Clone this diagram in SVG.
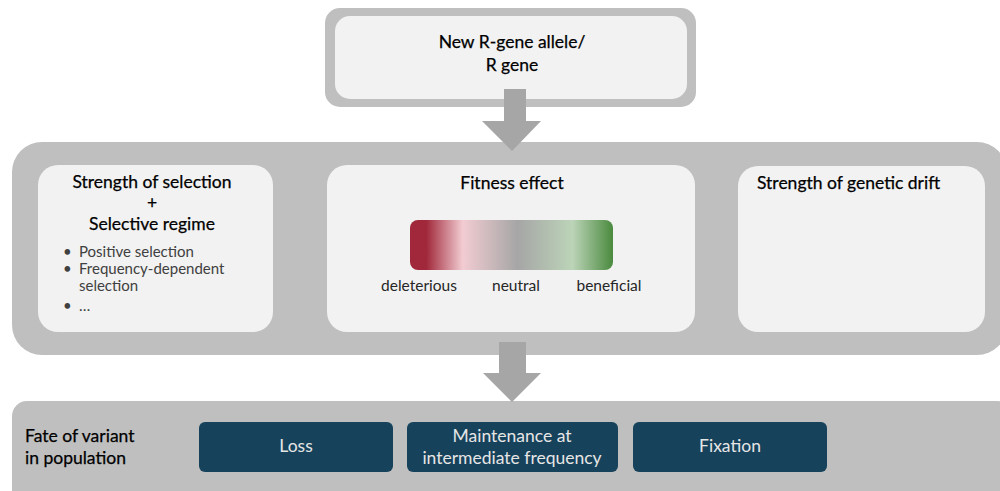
<svg xmlns="http://www.w3.org/2000/svg" width="1000" height="491" viewBox="0 0 1000 491">
<defs>
<linearGradient id="fit" x1="0" y1="0" x2="1" y2="0">
<stop offset="0" stop-color="#a0283a"/>
<stop offset="0.08" stop-color="#a0283a"/>
<stop offset="0.26" stop-color="#f2ccd2"/>
<stop offset="0.53" stop-color="#a6a6a6"/>
<stop offset="0.8" stop-color="#bcd4b8"/>
<stop offset="1" stop-color="#4a8a3e"/>
</linearGradient>
</defs>
<style>
.outer{fill:#bfbfbf}
.inner{fill:#f2f2f2}
.arrow{fill:#a6a6a6}
.btn{fill:#16425b}
.t{font-family:Lato,"Liberation Sans",sans-serif;font-size:17.5px;fill:#000;stroke:#000;stroke-width:0.25}
.s{font-family:Lato,"Liberation Sans",sans-serif;font-size:15px;fill:#404040}
.l{font-family:Lato,"Liberation Sans",sans-serif;font-size:15.5px;fill:#262626}
.w{font-family:Lato,"Liberation Sans",sans-serif;font-size:17.5px;fill:#e6e6e6}
.c{text-anchor:middle}
</style>
<g id="top">
<rect class="outer" x="325" y="8" width="371" height="99" rx="15"/>
<rect class="inner" x="335" y="16" width="352" height="83" rx="15"/>
<text class="t c" x="512" y="48">New R-gene allele/</text>
<text class="t c" x="512" y="71">R gene</text>
</g>
<g id="middle">
<rect class="outer" x="12" y="142" width="995" height="213" rx="30"/>
</g>
<g id="selection">
<rect class="inner" x="38" y="165" width="235" height="167" rx="20"/>
<text class="t c" x="152" y="188">Strength of selection</text>
<text class="t c" x="152" y="209">+</text>
<text class="t c" x="152" y="230">Selective regime</text>
<text class="s" x="63" y="257">•</text>
<text class="s" x="79" y="257">Positive selection</text>
<text class="s" x="63" y="274">•</text>
<text class="s" x="79" y="274">Frequency-dependent</text>
<text class="s" x="79" y="291">selection</text>
<text class="s" x="63" y="311">•</text>
<text class="s" x="79" y="311">…</text>
</g>
<g id="fitness">
<rect class="inner" x="327" y="165" width="368" height="167" rx="20"/>
<text class="t c" x="512" y="189">Fitness effect</text>
<rect x="410" y="220" width="203" height="50" rx="8" fill="url(#fit)"/>
<text class="l c" x="419" y="291">deleterious</text>
<text class="l c" x="516" y="291">neutral</text>
<text class="l c" x="609" y="291">beneficial</text>
</g>
<g id="drift">
<rect class="inner" x="738" y="166" width="247" height="166" rx="20"/>
<text class="t" x="757" y="189">Strength of genetic drift</text>
</g>
<g id="fate">
<rect class="outer" x="12" y="401" width="1000" height="110" rx="15"/>
<text class="t" x="25" y="442">Fate of variant</text>
<text class="t" x="25" y="464">in population</text>
</g>
<g id="loss">
<rect class="btn" x="199" y="422" width="194" height="50" rx="6"/>
<text class="w c" x="296" y="452">Loss</text>
</g>
<g id="maintenance">
<rect class="btn" x="407" y="422" width="211" height="50" rx="6"/>
<text class="w c" x="512" y="442">Maintenance at</text>
<text class="w c" x="512" y="464">intermediate frequency</text>
</g>
<g id="fixation">
<rect class="btn" x="633" y="422" width="194" height="50" rx="6"/>
<text class="w c" x="730" y="452">Fixation</text>
</g>
<g id="connectors">
<polygon class="arrow" points="504,89 526,89 526,121 541,121 512,151 482,121 504,121"/>
<polygon class="arrow" points="499,342 526,342 526,373 541,373 512,402 483,373 499,373"/>
</g>
</svg>
